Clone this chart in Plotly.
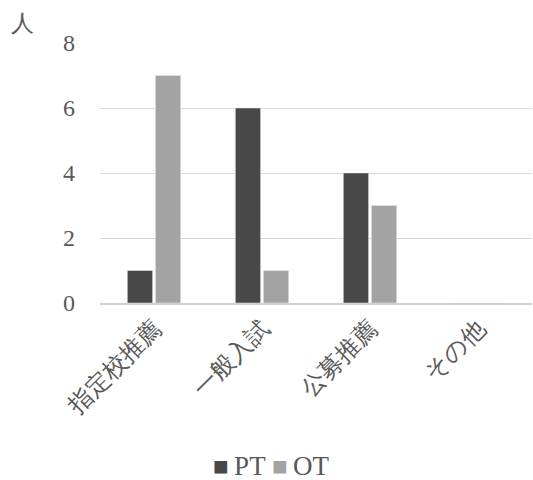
import plotly.graph_objects as go

categories = ["指定校推薦", "一般入試", "公募推薦", "その他"]
pt_values = [1, 6, 4, 0]
ot_values = [7, 1, 3, 0]
y_ticks = [0, 2, 4, 6, 8]
series_names = ["PT", "OT"]
series_colors = ["#484848", "#a3a3a3"]

FONT = "Liberation Serif"
TEXT = "#595959"

fig = go.Figure()
for name, vals, col in zip(series_names, [pt_values, ot_values], series_colors):
    fig.add_trace(go.Bar(name=name, x=categories, y=vals, marker_color=col))

# compact legend: colored squares followed by series names
legend_text = " ".join(
    f'<span style="color:{c};font-size:26px">■</span>\u2009{n}'
    for n, c in zip(series_names, series_colors)
)

fig.update_layout(
    width=533, height=480,
    margin=dict(l=100, r=1, t=43, b=177),
    paper_bgcolor="white", plot_bgcolor="white",
    barmode="group", bargap=0.48, bargroupgap=0.1,
    font=dict(family=FONT, color=TEXT, size=21),
    showlegend=False,
    annotations=[
        dict(
            text="人", xref="paper", yref="paper", x=-0.18, y=1.075,
            xanchor="center", yanchor="middle", showarrow=False,
            font=dict(size=23, family=FONT, color=TEXT),
        ),
        dict(
            text=legend_text, xref="paper", yref="paper", x=0.398, y=-0.625,
            xanchor="center", yanchor="middle", showarrow=False,
            font=dict(size=27, family=FONT, color=TEXT),
        ),
    ],
)
fig.update_xaxes(
    tickangle=-45, showgrid=False, showline=True, linecolor="#d0d0d0", linewidth=1.5,
    ticks="", tickfont=dict(size=24, family=FONT, color=TEXT),
)
fig.update_yaxes(
    range=[0, 8], tickvals=y_ticks, showgrid=True, gridcolor="#d9d9d9", gridwidth=1.3,
    zeroline=False, showline=False, ticks="", ticklabelstandoff=24,
    tickfont=dict(size=24, family=FONT, color=TEXT),
)

fig.write_html("out.html")
